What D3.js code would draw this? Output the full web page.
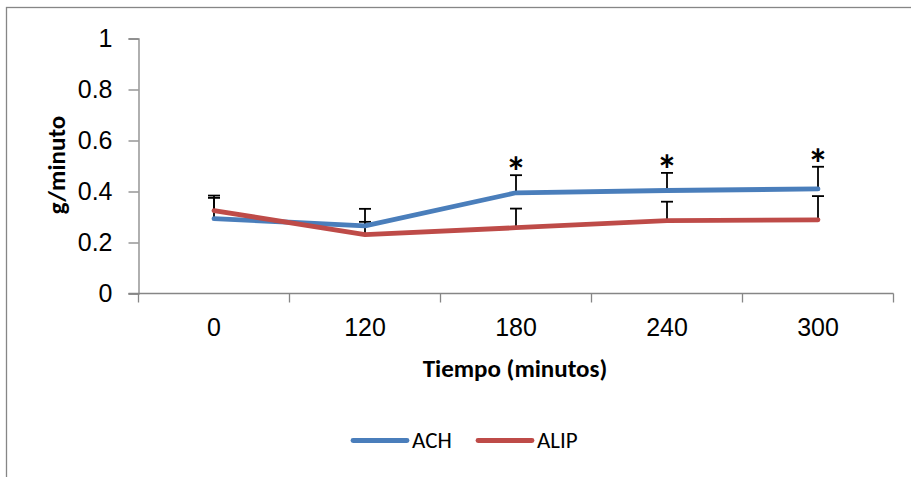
<!DOCTYPE html>
<html>
<head>
<meta charset="utf-8">
<script src="https://cdn.jsdelivr.net/npm/d3@7"></script>
<style>
  body { margin: 0; background: #fff; }
  svg { font-family: Carlito, Calibri, Lato, sans-serif; }
</style>
</head>
<body>
<div id="graf"></div>
<script>
// Datos
const tiempos = ['0', '120', '180', '240', '300']
const ach = [0.294, 0.265, 0.395, 0.404, 0.41]
const alip = [0.325, 0.231, 0.258, 0.286, 0.289]
// error superior (solo barra positiva)
const achErr = [0.09, 0.067, 0.069, 0.069, 0.087]
const alipErr = [0.05, 0.05, 0.075, 0.074, 0.093]
const significativo = [false, false, true, true, true]
const yTicks = [0, 0.2, 0.4, 0.6, 0.8, 1]

const ancho = 911
const alto = 477
const azul = '#4a7ebb'
const rojo = '#be4b48'
const gris = '#868686'

const svg = d3.select('#graf')
    .append('svg')
    .attr('width', ancho)
    .attr('height', alto)

// marco del gráfico
svg.append('rect')
    .attr('x', 6.5)
    .attr('y', 7.5)
    .attr('width', 930)
    .attr('height', 500)
    .attr('fill', 'none')
    .attr('stroke', gris)
    .attr('stroke-width', 1.3)

const x = d3.scaleBand()
    .domain(tiempos)
    .range([138.5, 893.5])

const y = d3.scaleLinear()
    .domain([0, 1])
    .range([293.5, 38.5])

const cx = d => x(d) + x.bandwidth() / 2

// eje Y
const yAxis = svg.append('g')
    .attr('transform', 'translate(138.5,0)')
    .call(d3.axisLeft(y).tickValues(yTicks).tickSize(10).tickPadding(16)
        .tickFormat(d => d === 0 || d === 1 ? d3.format('d')(d) : d3.format('.1f')(d)))
yAxis.select('.domain').attr('stroke', gris).attr('stroke-width', 1.3)
yAxis.selectAll('.tick line').attr('stroke', gris).attr('stroke-width', 1.3)
yAxis.selectAll('.tick text')
    .attr('font-size', 25)
    .attr('fill', '#000')
    .attr('font-family', null)

// eje X
const xAxis = svg.append('g')
    .attr('transform', 'translate(0,293.5)')
    .call(d3.axisBottom(x).tickSize(0).tickPadding(25))
xAxis.select('.domain').remove()
xAxis.append('line')
    .attr('x1', 128.5).attr('x2', 893.5)
    .attr('stroke', gris).attr('stroke-width', 1.3)
xAxis.selectAll('.tick text')
    .attr('font-size', 25)
    .attr('fill', '#000')
    .attr('font-family', null)
// marcas entre categorías
const bordes = tiempos.map(d => x(d)).concat([x(tiempos[tiempos.length - 1]) + x.bandwidth()])
xAxis.selectAll('.sep')
    .data(bordes)
    .enter()
    .append('line')
    .attr('x1', d => d).attr('x2', d => d)
    .attr('y1', 0).attr('y2', 9)
    .attr('stroke', gris).attr('stroke-width', 1.3)

// títulos de ejes
svg.append('text')
    .attr('x', 515)
    .attr('y', 377)
    .attr('text-anchor', 'middle')
    .attr('font-size', 25)
    .attr('font-weight', 'bold')
    .text('Tiempo (minutos)')

svg.append('text')
    .attr('transform', 'translate(65,165) rotate(-90)')
    .attr('text-anchor', 'middle')
    .attr('font-size', 25)
    .attr('font-weight', 'bold')
    .text('g/minuto')

// barras de error
function errores(valores, err) {
    const g = svg.append('g').attr('stroke', '#000').attr('stroke-width', 1.8)
    tiempos.forEach((t, i) => {
        const px = cx(t)
        g.append('line')
            .attr('x1', px).attr('x2', px)
            .attr('y1', y(valores[i])).attr('y2', y(valores[i] + err[i]))
        g.append('line')
            .attr('x1', px - 6).attr('x2', px + 6)
            .attr('y1', y(valores[i] + err[i])).attr('y2', y(valores[i] + err[i]))
    })
}
errores(ach, achErr)
errores(alip, alipErr)

// líneas
const linea = d3.line()
    .x((d, i) => cx(tiempos[i]))
    .y(d => y(d))

svg.append('path')
    .datum(ach)
    .attr('d', linea)
    .attr('fill', 'none')
    .attr('stroke', azul)
    .attr('stroke-width', 4.8)
    .attr('stroke-linecap', 'round')
    .attr('stroke-linejoin', 'round')

svg.append('path')
    .datum(alip)
    .attr('d', linea)
    .attr('fill', 'none')
    .attr('stroke', rojo)
    .attr('stroke-width', 4.8)
    .attr('stroke-linecap', 'round')
    .attr('stroke-linejoin', 'round')

// asteriscos de significancia
svg.selectAll('.ast')
    .data(tiempos.filter((t, i) => significativo[i]))
    .enter()
    .append('text')
    .attr('x', d => cx(d))
    .attr('y', d => {
        const i = tiempos.indexOf(d)
        return y(ach[i] + achErr[i]) + 12
    })
    .attr('text-anchor', 'middle')
    .attr('font-size', 42)
    .attr('font-weight', 'bold')
    .text('*')

// leyenda
const leyenda = [['ACH', azul, 353], ['ALIP', rojo, 478]]
leyenda.forEach(([nombre, color, lx]) => {
    svg.append('line')
        .attr('x1', lx).attr('x2', lx + 54)
        .attr('y1', 440.5).attr('y2', 440.5)
        .attr('stroke', color)
        .attr('stroke-width', 4.8)
        .attr('stroke-linecap', 'round')
    svg.append('text')
        .attr('x', lx + 59)
        .attr('y', 448)
        .attr('font-size', 23)
        .text(nombre)
})
</script>
</body>
</html>
